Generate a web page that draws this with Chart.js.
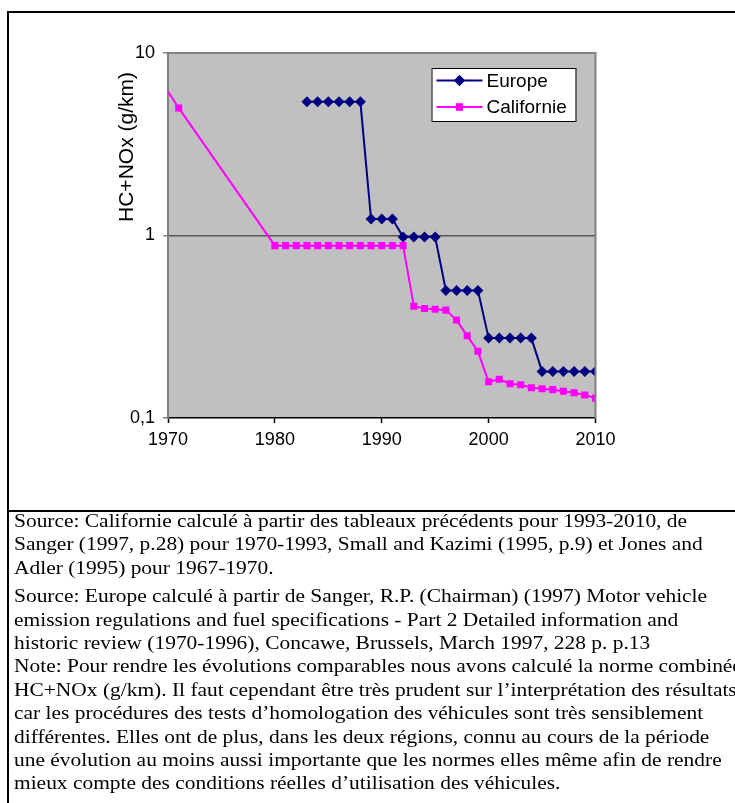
<!DOCTYPE html>
<html>
<head>
<meta charset="utf-8">
<script src="https://cdn.jsdelivr.net/npm/chart.js@4/dist/chart.umd.min.js"></script>
<style>
  html, body { margin: 0; padding: 0; background: #fff; overflow: hidden; }
  #frame { position: absolute; left: 7px; top: 11px; width: 740px; height: 800px;
           border-left: 2px solid #000; border-top: 2px solid #000; overflow: hidden; }
  #chartBox { position: absolute; left: 0; top: 0; width: 738px; height: 497px;
              border-bottom: 2px solid #000; }
  #notes { position: absolute; left: 5px; top: 496px; width: 760px;
           font-family: "Liberation Serif", "Times New Roman", serif; font-size: 19px;
           line-height: 23.4px; color: #000; white-space: nowrap;
           transform: scaleX(1.128); transform-origin: 0 0; }
  #notes p { margin: 0 0 5px 0; }
</style>
</head>
<body>
<div id="frame">
  <div id="chartBox"><canvas id="myChart" width="726" height="497"></canvas></div>
  <div id="notes">
    <p>Source: Californie calculé à partir des tableaux précédents pour 1993-2010, de<br>
    Sanger (1997, p.28) pour 1970-1993, Small and Kazimi (1995, p.9) et Jones and<br>
    Adler (1995) pour 1967-1970.</p>
    <p>Source: Europe calculé à partir de Sanger, R.P. (Chairman) (1997) Motor vehicle<br>
    emission regulations and fuel specifications - Part 2 Detailed information and<br>
    historic review (1970-1996), Concawe, Brussels, March 1997, 228 p. p.13<br>
    Note: Pour rendre les évolutions comparables nous avons calculé la norme combinée<br>
    HC+NOx (g/km). Il faut cependant être très prudent sur l’interprétation des résultats<br>
    car les procédures des tests d’homologation des véhicules sont très sensiblement<br>
    différentes. Elles ont de plus, dans les deux régions, connu au cours de la période<br>
    une évolution au moins aussi importante que les normes elles même afin de rendre<br>
    mieux compte des conditions réelles d’utilisation des véhicules.</p>
  </div>
</div>
<script>
var europeYears = [1983, 1984, 1985, 1986, 1987, 1988, 1989, 1990, 1991, 1992, 1993, 1994, 1995,
  1996, 1997, 1998, 1999, 2000, 2001, 2002, 2003, 2004, 2005, 2006, 2007, 2008, 2009, 2010];
var europeValues = [5.4, 5.4, 5.4, 5.4, 5.4, 5.4, 1.23, 1.23, 1.23, 0.98, 0.98, 0.98, 0.98,
  0.5, 0.5, 0.5, 0.5, 0.274, 0.274, 0.274, 0.274, 0.274, 0.18, 0.18, 0.18, 0.18, 0.18, 0.18];

var califYears = [1970, 1971, 1980, 1981, 1982, 1983, 1984, 1985, 1986, 1987, 1988, 1989, 1990,
  1991, 1992, 1993, 1994, 1995, 1996, 1997, 1998, 1999, 2000, 2001, 2002, 2003, 2004, 2005,
  2006, 2007, 2008, 2009, 2010];
var califValues = [6.15, 5.0, 0.88, 0.88, 0.88, 0.88, 0.88, 0.88, 0.88, 0.88, 0.88, 0.88, 0.88,
  0.88, 0.88, 0.41, 0.398, 0.394, 0.39, 0.344, 0.282, 0.232, 0.158, 0.163, 0.154, 0.152, 0.1465,
  0.1446, 0.143, 0.14, 0.1375, 0.1336, 0.1285];

var yTicks = [0.1, 1, 10];
var yTickLabels = ['0,1', '1', '10'];
var xTicks = [1970, 1980, 1990, 2000, 2010];

function toPoints(xs, ys) {
  var pts = [];
  for (var i = 0; i < xs.length; i++) pts.push({ x: xs[i], y: ys[i] });
  return pts;
}

// no marker on the first californian point (it sits on the axis edge)
var califRadius = califYears.map(function (y, i) { return i === 0 ? 0 : 5; });

var plotDecor = {
  id: 'plotDecor',
  beforeDraw: function (chart) {
    var a = chart.chartArea, ctx = chart.ctx;
    ctx.save();
    ctx.fillStyle = '#c0c0c0';
    ctx.fillRect(a.left, a.top, a.right - a.left, a.bottom - a.top);
    ctx.restore();
  },
  afterDatasetsDraw: function (chart) {
    var a = chart.chartArea, ctx = chart.ctx;
    ctx.save();
    // frame top/right
    ctx.strokeStyle = '#808080';
    ctx.lineWidth = 2;
    ctx.beginPath();
    ctx.moveTo(a.left, a.top);
    ctx.lineTo(a.right, a.top);
    ctx.lineTo(a.right, a.bottom);
    ctx.stroke();

    // legend box
    var bx = a.right - 164, by = a.top + 15, bw = 144, bh = 53;
    ctx.fillStyle = '#fff';
    ctx.fillRect(bx, by, bw, bh);
    ctx.strokeStyle = '#000';
    ctx.lineWidth = 1;
    ctx.strokeRect(bx + 0.5, by + 0.5, bw, bh);
    ctx.font = '19px "Liberation Sans", Arial, sans-serif';
    ctx.textBaseline = 'middle';
    chart.data.datasets.forEach(function (ds, i) {
      var ly = by + 12.5 + i * 26.5;
      ctx.strokeStyle = ds.borderColor;
      ctx.lineWidth = 2;
      ctx.beginPath();
      ctx.moveTo(bx + 5, ly);
      ctx.lineTo(bx + 51, ly);
      ctx.stroke();
      ctx.fillStyle = ds.borderColor;
      Chart.helpers.drawPoint(ctx, { pointStyle: ds.pointStyle, radius: i === 0 ? 5.5 : 5, rotation: 0, borderWidth: 0 }, bx + 28, ly);
      ctx.fill();
      ctx.fillStyle = '#000';
      ctx.fillText(ds.label, bx + 55, ly + 1);
    });

    // y axis title
    ctx.translate(118, 134);
    ctx.rotate(-Math.PI / 2);
    ctx.textAlign = 'center';
    ctx.font = '21px "Liberation Sans", Arial, sans-serif';
    ctx.fillStyle = '#000';
    ctx.fillText('HC+NOx (g/km)', 0, 0);
    ctx.restore();
  }
};

var ctx = document.getElementById('myChart').getContext('2d');
var myLineChart = new Chart(ctx, {
  type: 'line',
  data: {
    datasets: [{
      label: 'Europe',
      data: toPoints(europeYears, europeValues),
      borderColor: '#000080',
      backgroundColor: '#000080',
      borderWidth: 2,
      pointStyle: 'rectRot',
      pointRadius: 5.5,
      pointBorderWidth: 0,
      fill: false,
      tension: 0
    }, {
      label: 'Californie',
      data: toPoints(califYears, califValues),
      borderColor: '#ff00ff',
      backgroundColor: '#ff00ff',
      borderWidth: 2,
      pointStyle: 'rect',
      pointRadius: califRadius,
      pointBorderWidth: 0,
      fill: false,
      tension: 0
    }]
  },
  options: {
    responsive: false,
    animation: false,
    layout: { padding: { left: 0, top: 40, right: 139.5, bottom: 52 } },
    plugins: { legend: { display: false }, tooltip: { enabled: false } },
    scales: {
      x: {
        type: 'linear',
        min: 1970,
        max: 2010,
        afterFit: function (s) { s.height = 40; },
        afterBuildTicks: function (s) { s.ticks = xTicks.map(function (v) { return { value: v }; }); },
        ticks: {
          color: '#000',
          font: { family: '"Liberation Sans", Arial, sans-serif', size: 18 },
          padding: 6,
          maxRotation: 0,
          callback: function (v) { return String(v); }
        },
        grid: { drawOnChartArea: false, drawTicks: true, tickLength: 5, tickColor: '#000', tickWidth: 1.5 },
        border: { color: '#000', width: 1.5 }
      },
      y: {
        type: 'logarithmic',
        min: 0.1,
        max: 10,
        afterFit: function (s) { s.width = 159; },
        afterBuildTicks: function (s) { s.ticks = yTicks.map(function (v) { return { value: v }; }); },
        ticks: {
          color: '#000',
          font: { family: '"Liberation Sans", Arial, sans-serif', size: 18 },
          padding: 8,
          callback: function (v) { return yTickLabels[yTicks.indexOf(v)]; }
        },
        grid: {
          color: function (c) { return c.tick && c.tick.value === 1 ? '#555555' : 'rgba(0,0,0,0)'; },
          lineWidth: 1.5,
          drawTicks: true,
          tickLength: 5,
          tickColor: '#808080'
        },
        border: { color: '#808080', width: 2 }
      }
    }
  },
  plugins: [plotDecor]
});
</script>
</body>
</html>
